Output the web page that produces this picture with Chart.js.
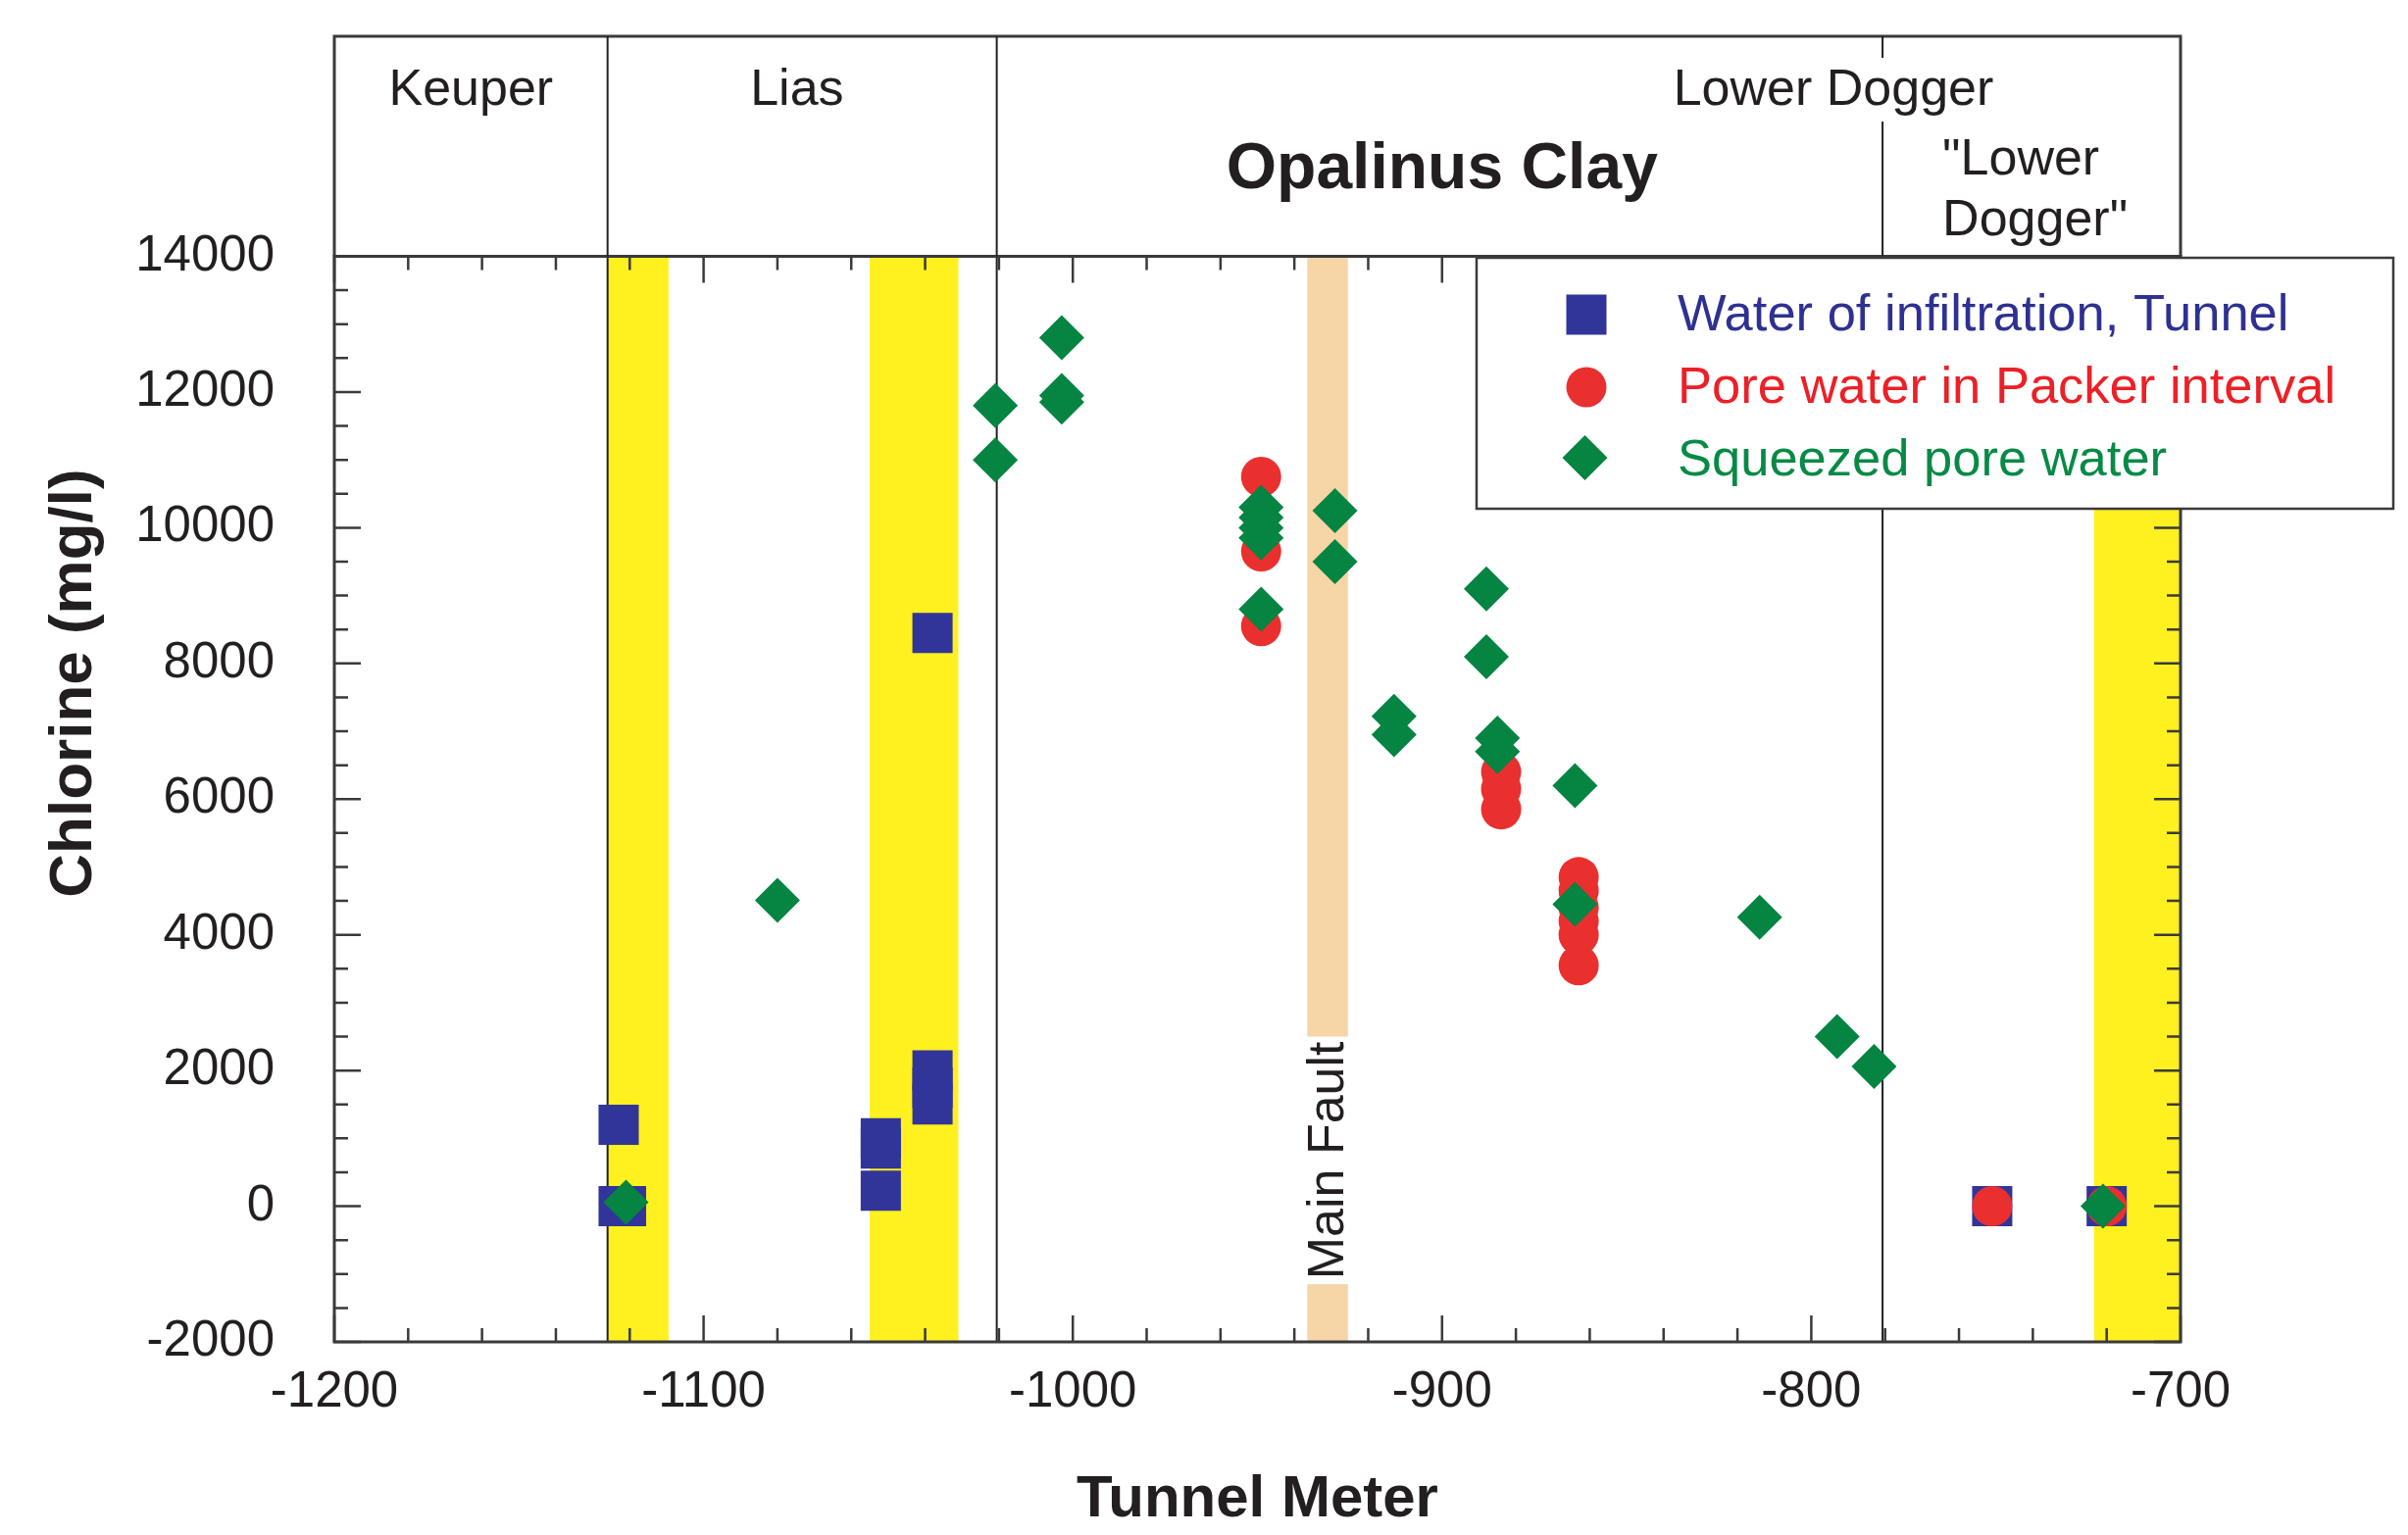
<!DOCTYPE html>
<html>
<head>
<meta charset="utf-8">
<script src="https://cdn.jsdelivr.net/npm/chart.js@4.4.1/dist/chart.umd.min.js"></script>
<style>
  html, body { margin: 0; padding: 0; background: #fff; }
  #wrap { width: 2456px; height: 1566px; }
</style>
</head>
<body>
<div id="wrap"><canvas id="chlorineChart" width="2456" height="1566"></canvas></div>
<script>
// --- data ---
const xTicks = [-1200, -1100, -1000, -900, -800, -700];
const yTicks = [-2000, 0, 2000, 4000, 6000, 8000, 10000, 12000, 14000];

const seriesNames = ['Water of infiltration, Tunnel', 'Pore water in Packer interval', 'Squeezed pore water'];

const infiltrationX = [-1123, -1121, -1123, -1052, -1052, -1052, -1038, -1038, -1038, -1038, -751, -720];
const infiltrationY = [0, 0, 1200, 1000, 850, 230, 8450, 2000, 1750, 1500, 0, 0];

const packerX = [-949, -949, -949, -884, -884, -884, -863, -863, -863, -863, -863, -863, -751, -720];
const packerY = [10750, 9650, 8550, 6400, 6150, 5850, 4850, 4650, 4400, 4200, 4000, 3550, 0, 0];

const squeezedX = [-1121, -1080, -1021, -1021, -1003, -1003, -1003, -949, -949, -949, -949, -949,
                   -929, -929, -913, -913, -888, -888, -885, -885, -864, -864, -814, -793, -783, -721];
const squeezedY = [60, 4510, 11800, 11000, 12800, 11950, 11850, 10300, 10150, 10000, 9850, 8800,
                   10250, 9500, 7220, 6950, 9100, 8100, 6900, 6700, 6200, 4450, 4260, 2500, 2060, 0];

// zones along the tunnel (tunnel meters)
const yellowBands = [[-1126, -1109.5], [-1055, -1031], [-723.4, -700]];
const faultBand = [-936.5, -925.5];
const faultGap = [-1150, 2500];          // chlorine range left free for the label
const boundaries = [-1126, -1020.6, -780.7];

const INK = '#231f20';
const FONT = '"Liberation Sans", Arial, Helvetica, sans-serif';
const COLORS = ['#31359a', '#e9302f', '#058442'];
const TEXT_COLORS = ['#2e3192', '#ec2027', '#078a45'];

function points(xs, ys) {
    return xs.map((v, i) => ({ x: v, y: ys[i] }));
}

const decor = {
    id: 'decor',
    beforeDatasetsDraw(chart) {
        const { ctx, chartArea: a, scales: { x, y } } = chart;
        ctx.save();
        ctx.fillStyle = '#fff01f';
        yellowBands.forEach(([from, to]) => {
            const x0 = x.getPixelForValue(from), x1 = x.getPixelForValue(to);
            ctx.fillRect(x0, a.top, x1 - x0, a.bottom - a.top);
        });

        ctx.fillStyle = '#f6d5a6';
        const f0 = x.getPixelForValue(faultBand[0]), f1 = x.getPixelForValue(faultBand[1]);
        const gTop = y.getPixelForValue(faultGap[1]), gBot = y.getPixelForValue(faultGap[0]);
        ctx.fillRect(f0, a.top, f1 - f0, gTop - a.top);
        ctx.fillRect(f0, gBot, f1 - f0, a.bottom - gBot);

        // rotated "Main Fault" label in the gap
        ctx.translate((f0 + f1) / 2, (gTop + gBot) / 2);
        ctx.rotate(-Math.PI / 2);
        ctx.fillStyle = INK;
        ctx.font = '52px ' + FONT;
        ctx.textAlign = 'center';
        ctx.textBaseline = 'middle';
        ctx.fillText('Main Fault', 0, 2);
        ctx.setTransform(1, 0, 0, 1, 0, 0);

        ctx.strokeStyle = INK;
        ctx.lineWidth = 2;
        boundaries.forEach(v => {
            const px = x.getPixelForValue(v);
            ctx.beginPath();
            ctx.moveTo(px, a.top);
            ctx.lineTo(px, a.bottom);
            ctx.stroke();
        });
        ctx.restore();
    },
    afterDatasetsDraw(chart) {
        const { ctx, chartArea: a, scales: { x, y } } = chart;
        const headTop = 37;
        ctx.save();

        // ticks, inward on all four sides
        ctx.strokeStyle = '#3a3a3a';
        ctx.lineWidth = 2.5;
        for (let v = -1200; v <= -700; v += 20) {
            const px = x.getPixelForValue(v);
            const len = v % 100 === 0 ? 27 : 14;
            ctx.beginPath();
            ctx.moveTo(px, a.top); ctx.lineTo(px, a.top + len);
            ctx.moveTo(px, a.bottom); ctx.lineTo(px, a.bottom - len);
            ctx.stroke();
        }
        for (let v = -2000; v <= 14000; v += 500) {
            const py = y.getPixelForValue(v);
            const len = v % 2000 === 0 ? 27 : 14;
            ctx.beginPath();
            ctx.moveTo(a.left, py); ctx.lineTo(a.left + len, py);
            ctx.moveTo(a.right, py); ctx.lineTo(a.right - len, py);
            ctx.stroke();
        }

        // plot frame + header box
        ctx.lineWidth = 3;
        ctx.strokeRect(a.left, a.top, a.right - a.left, a.bottom - a.top);
        ctx.beginPath();
        ctx.moveTo(a.left, a.top); ctx.lineTo(a.left, headTop);
        ctx.lineTo(a.right, headTop); ctx.lineTo(a.right, a.top);
        ctx.stroke();

        // formation boundaries in the header
        ctx.strokeStyle = INK;
        ctx.lineWidth = 2;
        boundaries.forEach((v, i) => {
            const px = x.getPixelForValue(v);
            ctx.beginPath();
            if (i === boundaries.length - 1) {
                ctx.moveTo(px, headTop); ctx.lineTo(px, 59);
                ctx.moveTo(px, 124); ctx.lineTo(px, a.top);
            } else {
                ctx.moveTo(px, headTop); ctx.lineTo(px, a.top);
            }
            ctx.stroke();
        });

        ctx.fillStyle = INK;
        ctx.textBaseline = 'alphabetic';
        ctx.textAlign = 'center';
        ctx.font = '52px ' + FONT;
        ctx.fillText('Keuper', x.getPixelForValue(-1163), 107);
        ctx.fillText('Lias', x.getPixelForValue(-1074.7), 107);
        ctx.fillText('Lower Dogger', x.getPixelForValue(-794), 107);
        ctx.textAlign = 'left';
        ctx.fillText('"Lower', x.getPixelForValue(-764.5), 178);
        ctx.fillText('Dogger"', x.getPixelForValue(-764.5), 240);
        ctx.textAlign = 'center';
        ctx.font = 'bold 66px ' + FONT;
        ctx.fillText('Opalinus Clay', x.getPixelForValue(-900), 192);

        // y axis title sits above the axis centre in the original
        ctx.save();
        ctx.translate(76, 697);
        ctx.rotate(-Math.PI / 2);
        ctx.font = 'bold 62px ' + FONT;
        ctx.textBaseline = 'middle';
        ctx.fillText('Chlorine (mg/l)', 0, 0);
        ctx.restore();

        // legend box (overhangs the right axis)
        const lx = 1506, ly = 263, lw = 935, lh = 256;
        ctx.fillStyle = '#fff';
        ctx.fillRect(lx, ly, lw, lh);
        ctx.strokeStyle = '#3a3a3a';
        ctx.lineWidth = 2.5;
        ctx.strokeRect(lx, ly, lw, lh);
        const mx = 1618, rows = [321, 395, 467], baselines = [337, 411, 485];
        ctx.fillStyle = COLORS[0];
        ctx.fillRect(mx - 20.5, rows[0] - 20.5, 41, 41);
        ctx.fillStyle = COLORS[1];
        ctx.beginPath(); ctx.arc(mx, rows[1], 20.5, 0, Math.PI * 2); ctx.fill();
        ctx.fillStyle = COLORS[2];
        ctx.beginPath();
        ctx.moveTo(mx - 1.5, rows[2] - 23); ctx.lineTo(mx + 21.5, rows[2]);
        ctx.lineTo(mx - 1.5, rows[2] + 23); ctx.lineTo(mx - 24.5, rows[2]);
        ctx.closePath(); ctx.fill();
        ctx.font = '52.5px ' + FONT;
        ctx.textAlign = 'left';
        seriesNames.forEach((name, i) => {
            ctx.fillStyle = TEXT_COLORS[i];
            ctx.fillText(name, 1711, baselines[i]);
        });
        ctx.restore();
    }
};

new Chart(document.getElementById('chlorineChart'), {
    type: 'scatter',
    data: {
        datasets: [
            { label: seriesNames[0], data: points(infiltrationX, infiltrationY), pointStyle: 'rect',
              pointRadius: 29, backgroundColor: COLORS[0], borderWidth: 0, order: 3 },
            { label: seriesNames[1], data: points(packerX, packerY), pointStyle: 'circle',
              pointRadius: 20.5, backgroundColor: COLORS[1], borderWidth: 0, order: 2 },
            { label: seriesNames[2], data: points(squeezedX, squeezedY), pointStyle: 'rectRot',
              pointRadius: 23, backgroundColor: COLORS[2], borderWidth: 0, order: 1 },
        ],
    },
    options: {
        responsive: false,
        animation: false,
        devicePixelRatio: 1,
        layout: { padding: { top: 261.5, right: 232, bottom: 0, left: 0 } },
        plugins: { legend: { display: false }, tooltip: { enabled: false } },
        elements: { point: { hoverRadius: 0 } },
        scales: {
            x: {
                type: 'linear', min: -1200, max: -700,
                afterBuildTicks: s => { s.ticks = xTicks.map(v => ({ value: v })); },
                afterFit: s => { s.height = 197; },
                grid: { display: false, drawTicks: false },
                border: { display: false },
                ticks: { color: INK, font: { family: FONT, size: 51 }, padding: 21,
                         maxRotation: 0, autoSkip: false, callback: v => String(v) },
                title: { display: true, text: 'Tunnel Meter', color: INK,
                         font: { family: FONT, size: 60, weight: 'bold' }, padding: { top: 0, bottom: 0 } },
            },
            y: {
                type: 'linear', min: -2000, max: 14000,
                afterBuildTicks: s => { s.ticks = yTicks.map(v => ({ value: v })); },
                afterFit: s => { s.width = 341; },
                grid: { display: false, drawTicks: false },
                border: { display: false },
                ticks: { color: INK, font: { family: FONT, size: 51 }, padding: 61,
                         autoSkip: false, callback: v => String(v) },
                title: { display: false },
            },
        },
    },
    plugins: [decor],
});
</script>
</body>
</html>
